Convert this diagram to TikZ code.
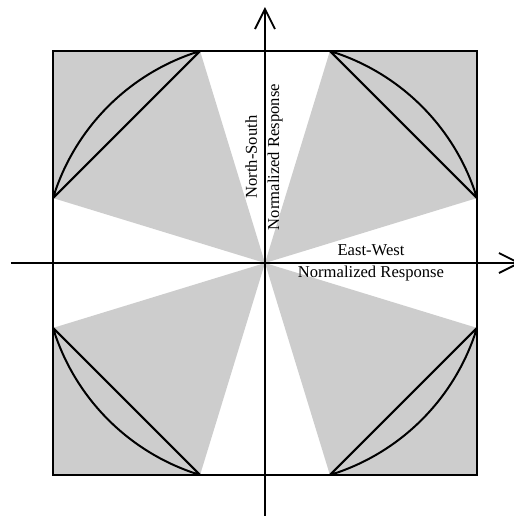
\documentclass[tikz,border=0pt]{standalone}
\usepackage{fontspec}
\setmainfont{Liberation Serif}
\usetikzlibrary{arrows.meta}
\definecolor{lobegray}{RGB}{205,205,205}

\begin{document}
\begin{tikzpicture}[x=0.5pt,y=0.5pt,
  axis/.style={line width=0.9pt,-{Straight Barb[length=10pt,width=10pt,line width=0.9pt]}},
  lobe/.style={line width=1pt,line join=round},
  lbl/.style={font=\fontsize{8.3}{11.2}\selectfont,align=center,inner sep=0pt}]
\useasboundingbox (-265,-253) rectangle (249,263);
\coordinate (O) at (0,0);
\coordinate (W) at (-254,0);
\coordinate (E) at (256,0);
\coordinate (S) at (0,-254);
\coordinate (N) at (0,256);
% shaded sectors
\foreach \a in {0,90,180,270}
  \fill[lobegray] (O) -- (\a+17.03:221.7) -- (\a+45:299.8) -- (\a+72.97:221.7) -- cycle;
\draw[line width=1.2pt] (-212,-212) rectangle (212,212);
% arcs and chords
\foreach \a in {0,90,180,270}
  \draw[lobe] (\a+17.03:221.7) arc[start angle=\a+17.03,end angle=\a+72.97,radius=221.7] -- cycle;
\draw[axis] (W) -- (E);
\draw[axis] (S) -- (N);
\node[lbl] (ew) at (106,0) {East-West\\Normalized Response};
\node[lbl,rotate=90] (ns) at (-1,106) {North-South\\Normalized Response};
\end{tikzpicture}
\end{document}
